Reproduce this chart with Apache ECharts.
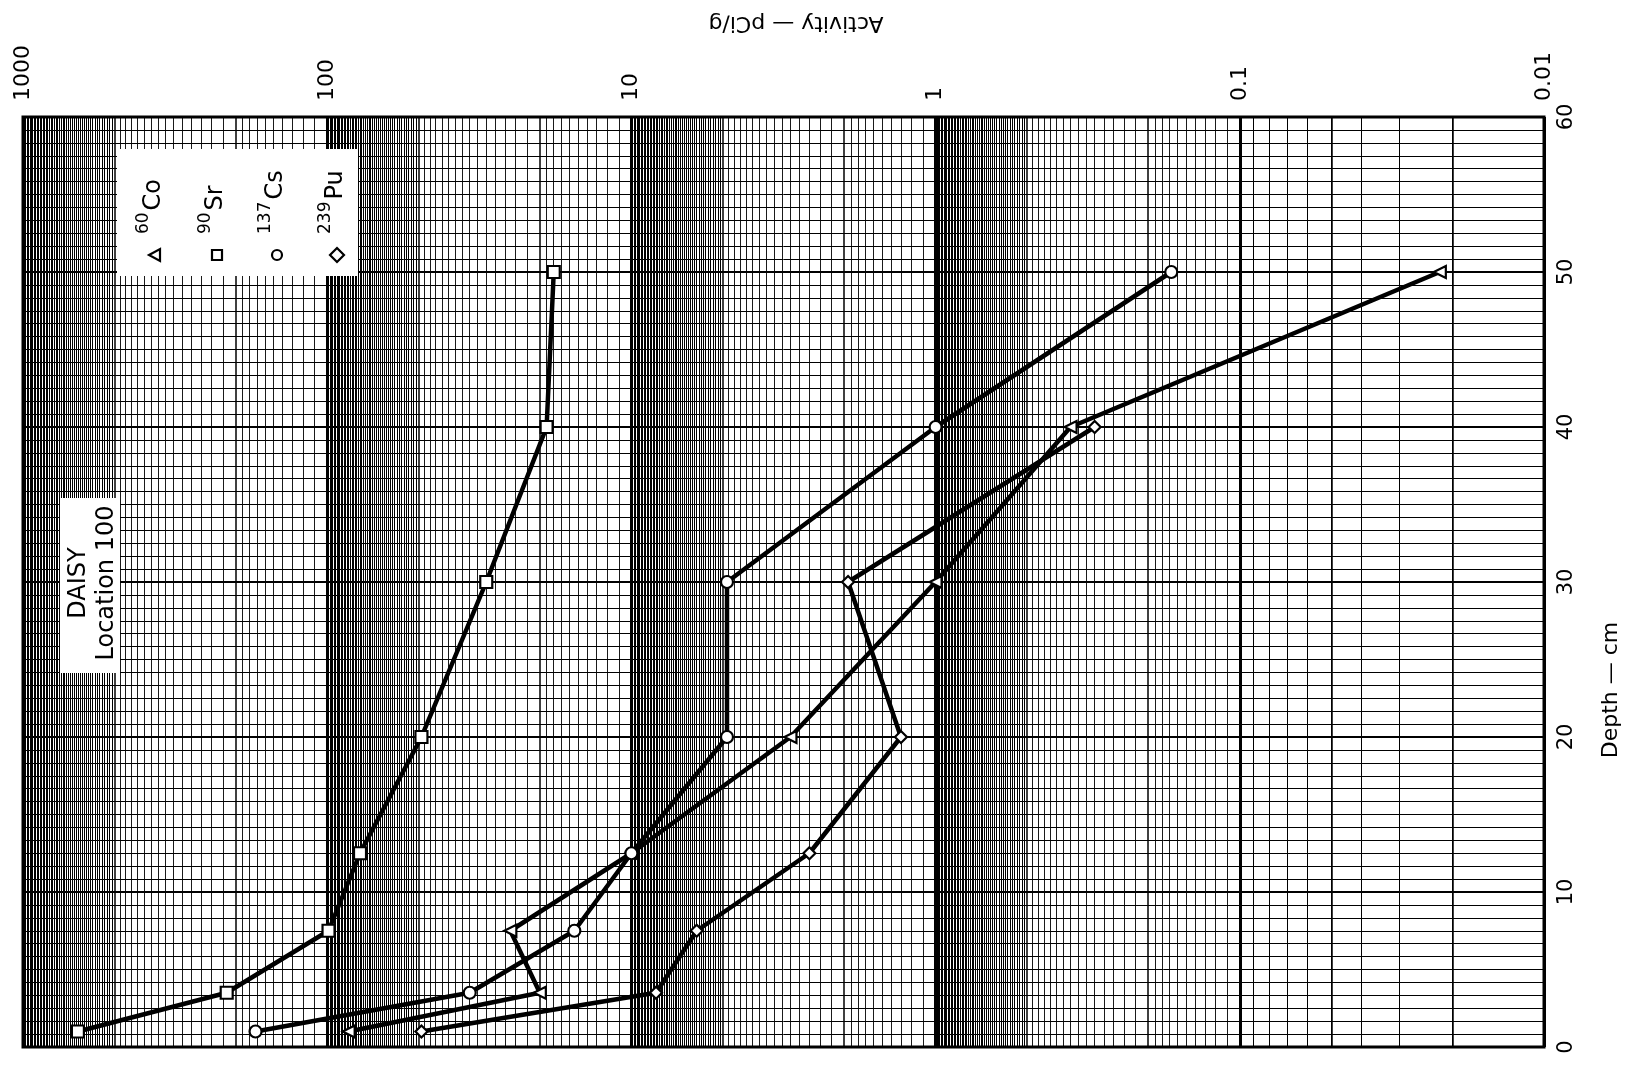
<!DOCTYPE html>
<html><head><meta charset="utf-8">
<script src="https://cdn.jsdelivr.net/npm/echarts@6/dist/echarts.min.js"></script>
<style>html,body{margin:0;padding:0;background:#fff}#c{width:1627px;height:1065px}</style>
</head><body><div id="c"></div>
<script>
// ---- data ----
const depths = [1, 3.5, 7.5, 12.5, 20, 30, 40, 50];
const co60  = [85, 20, 25, 10, 3.0, 1.0, 0.36, 0.022];
const sr90  = [660, 214, 99, 78, 49, 30, 19, 18];
const cs137 = [172, 34, 15.4, 10, 4.85, 4.85, 1.0, 0.168];
const pu239 = [49, 8.3, 6.1, 2.6, 1.3, 1.94, 0.30];
const activityTicks = ['0.01', '0.1', '1', '10', '100', '1000'];
const depthTicks = [0, 10, 20, 30, 40, 50, 60];
const legendNames = [['60', 'Co'], ['90', 'Sr'], ['137', 'Cs'], ['239', 'Pu']];
const boxLines = ['DAISY', 'Location 100'];

// ---- graph-paper minor lines (log direction) ----
const minorX = [];
for (let e = -2; e <= 2; e++) {
  const b = Math.pow(10, e);
  for (let k = 11; k <= 99; k++) {
    let use = false, w = 0.9;
    if (k < 20) use = true;
    else if (k < 50) use = (k % 2 === 0);
    else use = true;
    if (k >= 50) w = 1.0;
    if (k === 20 || k === 50) w = 1.5;
    if (use) minorX.push({ xAxis: +(k / 10 * b).toPrecision(6), lineStyle: { width: w } });
  }
}

function pts(vals) { return vals.map((v, i) => [v, depths[i]]); }
function mk(name, vals, symbol, rot) {
  return {
    type: 'line', name: name, data: pts(vals), symbol: symbol, symbolSize: 12, symbolRotate: rot || 0,
    lineStyle: { color: '#000', width: 4.5 },
    itemStyle: { color: '#fff', borderColor: '#000', borderWidth: 2.2 },
    z: 10, silent: true, animation: false
  };
}

const chart = echarts.init(document.getElementById('c'));
const font = '"DejaVu Sans", sans-serif';

// legend graphics
const legendG = [{ type: 'rect', shape: { x: 117, y: 149, width: 241, height: 127 }, style: { fill: '#fff' }, z: 50 }];
const mxs = [155, 217, 277, 337];
legendNames.forEach((n, i) => {
  const mx = mxs[i];
  legendG.push({ type: 'text', x: mx - 11.8, y: 234, rotation: Math.PI / 2, z: 51,
    style: { text: n[0], fontSize: 17, fontFamily: font, fill: '#000', align: 'left', verticalAlign: 'middle' } });
  legendG.push({ type: 'text', x: mx - 0.8, y: 234 - n[0].length * 10.8 - 2, rotation: Math.PI / 2, z: 51,
    style: { text: n[1], fontSize: 24, fontFamily: font, fill: '#000', align: 'left', verticalAlign: 'middle' } });
});
const ms = { stroke: '#000', lineWidth: 2.2, fill: '#fff' };
legendG.push({ type: 'polygon', shape: { points: [[mxs[0] - 6, 255], [mxs[0] + 5, 249], [mxs[0] + 5, 261]] }, style: ms, z: 51 });
legendG.push({ type: 'rect', shape: { x: mxs[1] - 5, y: 250, width: 10, height: 10 }, style: ms, z: 51 });
legendG.push({ type: 'circle', shape: { cx: mxs[2], cy: 255, r: 5 }, style: ms, z: 51 });
legendG.push({ type: 'polygon', shape: { points: [[mxs[3], 248], [mxs[3] + 7, 255], [mxs[3], 262], [mxs[3] - 7, 255]] }, style: ms, z: 51 });

const option = {
  backgroundColor: '#fff',
  animation: false,
  grid: { left: 23, right: 83, top: 117, bottom: 18, show: true, borderColor: '#000', borderWidth: 3, backgroundColor: '#fff' },
  xAxis: {
    type: 'log', logBase: 10, min: 0.01, max: 1000, inverse: true, position: 'top',
    axisLine: { show: false }, axisTick: { show: false },
    axisLabel: { rotate: 90, fontSize: 22, fontFamily: font, color: '#000', margin: 16,
      formatter: v => activityTicks[Math.round(Math.log10(v)) + 2] },
    splitLine: { show: true, lineStyle: { color: '#000', width: 3 } }
  },
  yAxis: {
    type: 'value', min: 0, max: 60, interval: 10, position: 'right',
    axisLine: { show: false }, axisTick: { show: false },
    axisLabel: { rotate: 90, fontSize: 21, fontFamily: font, color: '#000', margin: 12,
      formatter: v => depthTicks.indexOf(v) >= 0 ? String(v) : '' },
    splitLine: { show: true, lineStyle: { color: '#000', width: 2 } },
    minorTick: { show: false, splitNumber: 12 },
    minorSplitLine: { show: true, lineStyle: { color: '#000', width: 1 } }
  },
  series: [
    { type: 'line', data: [], silent: true, z: 2,
      markLine: { silent: true, symbol: ['none', 'none'], animation: false, label: { show: false },
        lineStyle: { color: '#000', width: 0.9, type: 'solid' }, emphasis: { disabled: true }, data: minorX } },
    mk('60Co', co60, 'triangle', 90),
    mk('90Sr', sr90, 'rect', 0),
    mk('137Cs', cs137, 'circle', 0),
    mk('239Pu', pu239, 'diamond', 0)
  ],
  graphic: [
    { type: 'text', x: 796, y: 23, rotation: Math.PI, z: 60,
      style: { text: 'Activity — pCi/g', fontSize: 22, fontFamily: font, fill: '#000', align: 'center', verticalAlign: 'middle' } },
    { type: 'text', x: 1611, y: 690, rotation: Math.PI / 2, z: 60,
      style: { text: 'Depth — cm', fontSize: 22, fontFamily: font, fill: '#000', align: 'center', verticalAlign: 'middle' } },
    { type: 'rect', shape: { x: 60, y: 498, width: 60, height: 175 }, style: { fill: '#fff' }, z: 50 },
    { type: 'text', x: 78.6, y: 583, rotation: Math.PI / 2, z: 51,
      style: { text: boxLines[0], fontSize: 24, fontFamily: font, fill: '#000', align: 'center', verticalAlign: 'middle' } },
    { type: 'text', x: 106.6, y: 583, rotation: Math.PI / 2, z: 51,
      style: { text: boxLines[1], fontSize: 24, fontFamily: font, fill: '#000', align: 'center', verticalAlign: 'middle' } }
  ].concat(legendG)
};
chart.setOption(option);
</script></body></html>
